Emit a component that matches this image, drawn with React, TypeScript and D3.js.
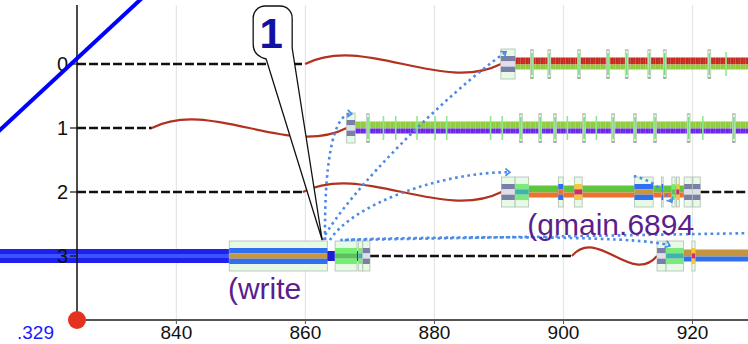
import * as d3 from 'd3'

const W = 748, H = 344

// time axis ticks and goroutine rows
const timeTicks = [840, 860, 880, 900, 920]
const rows = [0, 1, 2, 3]
const originLabel = '.329'

// blocked (dashed) intervals: [row, t0, t1]
const waits: [number, number, number][] = [
  [0, 824.6, 859.95],
  [1, 824.6, 836.2],
  [2, 824.6, 859.6],
  [2, 921.2, 930],
  [3, 870.0, 901.3],
]

// wake-up (red curve) intervals: [row, t0, t1]
const wakes: [number, number, number][] = [
  [0, 859.95, 890.3],
  [1, 836.2, 866.4],
  [2, 859.6, 890.4],
  [3, 901.3, 914.5],
]

// running spans: [row, t0, t1, kind]
const spans: [number, number, number, string][] = [
  [0, 892.5, 930, 'redGreen'],
  [0, 890.3, 892.5, 'gray'],
  [1, 867.7, 930, 'greenPurple'],
  [1, 866.4, 867.7, 'gray'],
  [2, 894.6, 918.7, 'greenOrange'],
  [2, 890.4, 892.5, 'gray'],
  [2, 892.5, 894.6, 'teal'],
  [2, 899.2, 899.95, 'blueSmall'],
  [2, 901.7, 902.9, 'yellowMag'],
  [2, 911.0, 913.9, 'blueGold'],
  [2, 915.2, 915.45, 'blueSmall'],
  [2, 916.8, 917.3, 'green'],
  [2, 917.5, 917.95, 'yellowMag'],
  [2, 918.7, 919.95, 'gray'],
  [2, 920.05, 921.2, 'gray'],
  [3, 810, 848.2, 'blue'],
  [3, 848.2, 863.4, 'blueGold'],
  [3, 863.4, 864.6, 'blueNarrow'],
  [3, 864.6, 868.0, 'green'],
  [3, 868.0, 868.2, 'blueNarrow'],
  [3, 868.2, 868.9, 'teal'],
  [3, 868.9, 870.0, 'gray'],
  [3, 918.6, 930, 'goldBlue'],
  [3, 914.5, 915.9, 'gray'],
  [3, 915.9, 918.6, 'teal'],
  [3, 919.9, 920.4, 'yellowMag'],
]

// event ticks on rows 0 and 1
const ticks0 = [895.1, 897.8, 902.4, 906.9, 909.8, 913.3, 915.7, 922.6]
const plain0 = [925.2]
const ticks1 = [869.7, 893.4, 896.4, 898.7, 903.2, 907.7, 911.1, 914.2, 919.4, 926.4]
const plain1 = [872.1, 874.0, 877.3, 880.1, 881.9, 888.7, 890.5, 900.6, 905.1, 921.6]

// flow arrows: from, control 1, control 2, to  as [t, row]
const flows: [number, number][][] = [
  [[862.6, 2.75], [866.9, 1.97], [881.7, 0.48], [891.1, -0.19]],
  [[863.05, 2.75], [862.9, 1.66], [864.1, 0.75], [867.2, 0.78]],
  [[863.8, 2.75], [867.2, 2.2], [880.9, 1.69], [891.7, 1.69]],
  [[865.4, 2.75], [877.8, 2.7], [911.9, 2.66], [916.5, 2.84]],
  [[866.1, 2.75], [866.1, 2.75], [930.5, 2.64], [930.5, 2.64]],
  [[910.9, 1.75], [913.5, 1.81], [915.7, 1.97], [916.8, 2.16]],
]

// wall-clock line
const clockLine: [number, number][] = [[810, 1.28], [837, -1.247]]

// labels: [row, t, text]
const labels: [number, number, string][] = [
  [3, 848.0, '(write'],
  [2, 894.4, '(gmain.6894'],
]
const callout = { t: 862.6, row: 2.75, text: '1' }

const KIND: Record<string, { box: boolean; stripes: string[] }> = {
  redGreen: { box: false, stripes: ['#c8291e', '#8dcc3a'] },
  greenPurple: { box: false, stripes: ['#8dcc3a', '#6a24ee'] },
  greenOrange: { box: false, stripes: ['#5ec53c', '#ee7131'] },
  goldBlue: { box: false, stripes: ['#c4943e', '#2f70ee'] },
  blue: { box: false, stripes: ['#2020ec', '#3a55ff', '#2020ec'] },
  blueNarrow: { box: false, stripes: ['#1c1cd6'] },
  gray: { box: true, stripes: ['#7b7fa8', '#dfdfe7', '#7b7fa8'] },
  teal: { box: true, stripes: ['#7ce97c', '#40b2ae', '#7ce97c'] },
  blueGold: { box: true, stripes: ['#2f6ff0', '#c8963c', '#2f6ff0'] },
  yellowMag: { box: true, stripes: ['#f5c53d', '#d02c6c', '#f5c53d'] },
  green: { box: true, stripes: ['#74ef74', '#5dbf5d', '#74ef74'] },
  blueSmall: { box: true, stripes: ['#2f6ff0', '#ee7131', '#2f6ff0'] },
}

const FONT = 'Liberation Sans, Arial, Helvetica, sans-serif'

export default function App() {
  const x = d3.scaleLinear().domain([824.6, 928.6]).range([77, 748])
  const y = d3.scaleLinear().domain([0, 3]).range([64, 256])
  const top = 5, bottom = 320
  const left = x.range()[0]

  const wakePath = (x0: number, x1: number, yy: number) => {
    const p = d3.path(), w = x1 - x0
    p.moveTo(x0, yy)
    p.bezierCurveTo(x0 + w * 0.3, yy - 30, x0 + w * 0.7, yy + 30, x1, yy)
    return p.toString()
  }
  const flowPath = (pts: [number, number][]) => {
    const p = d3.path()
    const [a, b, c, d] = pts.map(([t, r]) => [x(t), y(r)])
    p.moveTo(a[0], a[1])
    p.bezierCurveTo(b[0], b[1], c[0], c[1], d[0], d[1])
    return p.toString()
  }

  const renderSpan = ([row, t0, t1, kind]: [number, number, number, string], i: number) => {
    const k = KIND[kind]
    const x0 = x(t0), w = Math.max(0.8, x(t1) - x(t0)), yc = y(row)
    const parts: JSX.Element[] = []
    if (k.box) {
      parts.push(<rect key="bg" x={x0} y={yc - 15} width={w} height={30} fill="#e6fae6" stroke="#b2bcb2" strokeWidth={0.8} />)
      const h = 16 / k.stripes.length
      k.stripes.forEach((c, j) => parts.push(<rect key={j} x={x0} y={yc - 8 + j * h} width={w} height={h} fill={c} />))
    } else if (k.stripes.length === 2) {
      parts.push(<rect key="a" x={x0} y={yc - 6.5} width={w} height={7} fill={k.stripes[0]} />)
      parts.push(<rect key="b" x={x0} y={yc + 0.5} width={w} height={5} fill={k.stripes[1]} />)
      if (row < 2) parts.push(<rect key="h" x={x0} y={yc - 6.5} width={w} height={12} fill="url(#hatch)" />)
    } else if (k.stripes.length === 3) {
      parts.push(<rect key="a" x={x0} y={yc - 7} width={w} height={14} fill={k.stripes[0]} />)
      parts.push(<rect key="b" x={x0} y={yc - 2} width={w} height={4} fill={k.stripes[1]} />)
    } else {
      parts.push(<rect key="a" x={x0} y={yc - 5} width={w} height={10} fill={k.stripes[0]} />)
    }
    return <g key={i}>{parts}</g>
  }

  const renderTick = (row: number, framed: boolean) => (t: number, i: number) => {
    const xx = x(t), yc = y(row)
    return framed ? (
      <g key={`${row}f${i}`}>
        <rect x={xx - 1.5} y={yc - 14} width={3} height={28} fill="#d9f6d9" stroke="#b7c2b7" strokeWidth={0.7} />
        <line x1={xx} x2={xx} y1={yc - 11} y2={yc + 11} stroke="#72e072" strokeWidth={1.5} />
        <line x1={xx - 1.5} x2={xx + 1.5} y1={yc + 14} y2={yc + 14} stroke="#888" strokeWidth={1.2} />
        <line x1={xx - 1.5} x2={xx + 1.5} y1={yc - 14} y2={yc - 14} stroke="#aaa" strokeWidth={1} />
      </g>
    ) : (
      <line key={`${row}p${i}`} x1={xx} x2={xx} y1={yc - 12} y2={yc + 12} stroke="#8ee88e" strokeWidth={1.6} />
    )
  }

  // callout geometry
  const tipX = x(callout.t), tipY = y(callout.row)
  const bl = tipX - 69, br = tipX - 30, bt = 6, bb = 58, r = 12
  const cp = d3.path()
  cp.moveTo(bl + r, bt)
  cp.lineTo(br - r, bt)
  cp.arcTo(br, bt, br, bt + r, r)
  cp.lineTo(br, bb - 10)
  cp.lineTo(tipX, tipY)
  cp.lineTo(bl + 13, bb + 1)
  cp.quadraticCurveTo(bl, bb - 2, bl, bb - r - 2)
  cp.lineTo(bl, bt + r)
  cp.arcTo(bl, bt, bl + r, bt, r)
  cp.closePath()

  return (
    <svg width={W} height={H} style={{ position: 'absolute', left: 0, top: 0, background: '#fff' }} fontFamily={FONT}>
      <defs>
        <pattern id="hatch" width={5} height={12} patternUnits="userSpaceOnUse">
          <rect x={0} y={0} width={1} height={12} fill="#fff" opacity={0.2} />
          <rect x={3} y={0} width={0.6} height={12} fill="#fff" opacity={0.12} />
        </pattern>
        <marker id="head" viewBox="-6 -5 10 10" markerWidth={9} markerHeight={9} refX={0} refY={0} orient="auto" markerUnits="userSpaceOnUse">
          <path d="M-5,-4 L0,0 L-5,4" fill="none" stroke="#4a8be6" strokeWidth={1.8} />
        </marker>
      </defs>

      {timeTicks.map(t => (
        <line key={t} x1={x(t)} x2={x(t)} y1={top} y2={bottom} stroke="#e6e6e6" strokeWidth={1.2} />
      ))}

      {waits.map(([row, t0, t1], i) => (
        <line key={i} x1={x(t0)} x2={Math.min(W, x(t1))} y1={y(row)} y2={y(row)} stroke="#111" strokeWidth={2.4} strokeDasharray="9 3" />
      ))}

      {wakes.map(([row, t0, t1], i) => (
        <path key={i} d={wakePath(x(t0), x(t1), y(row))} fill="none" stroke="#b3311f" strokeWidth={2.2} />
      ))}

      {spans.map(renderSpan)}

      {ticks0.map(renderTick(0, true))}
      {plain0.map(renderTick(0, false))}
      {ticks1.map(renderTick(1, true))}
      {plain1.map(renderTick(1, false))}

      {flows.map((f, i) => (
        <path key={i} d={flowPath(f)} fill="none" stroke="#4a8be6" strokeWidth={2.6} strokeDasharray="2.6 3.6" markerEnd={i === 4 ? undefined : 'url(#head)'} />
      ))}

      {labels.map(([row, t, text], i) => (
        <text key={i} x={x(t)} y={y(row) + 43} fontSize={30} fill="#5b1e8e">{text}</text>
      ))}

      <path d={cp.toString()} fill="#fff" stroke="#111" strokeWidth={1.3} />
      <text x={bl + 18} y={48} fontSize={42} fontWeight="bold" fill="#1212a2" textAnchor="middle">{callout.text}</text>

      {/* left axis */}
      <line x1={left} x2={left} y1={top} y2={bottom} stroke="#111" strokeWidth={1.5} />
      {rows.map(rw => (
        <g key={rw}>
          <line x1={left - 7} x2={left} y1={y(rw)} y2={y(rw)} stroke="#111" strokeWidth={1.2} />
          <text x={left - 9} y={y(rw) + 7} fontSize={20} textAnchor="end" fill="#111">{rw}</text>
        </g>
      ))}

      <path d={d3.line()(clockLine.map(([t, rr]) => [x(t), y(rr)]))!} stroke="#0000ff" strokeWidth={4} fill="none" />

      {/* bottom axis */}
      <line x1={left} x2={W} y1={bottom} y2={bottom} stroke="#555" strokeWidth={2} />
      {timeTicks.map(t => (
        <g key={t}>
          <line x1={x(t)} x2={x(t)} y1={bottom} y2={bottom + 4} stroke="#555" strokeWidth={1} />
          <text x={x(t)} y={339} fontSize={19} textAnchor="middle" fill="#111">{t}</text>
        </g>
      ))}
      <text x={54} y={339} fontSize={19} textAnchor="end" fill="#1a1aff">{originLabel}</text>
      <circle cx={left} cy={bottom} r={9} fill="#e5311f" />
    </svg>
  )
}
